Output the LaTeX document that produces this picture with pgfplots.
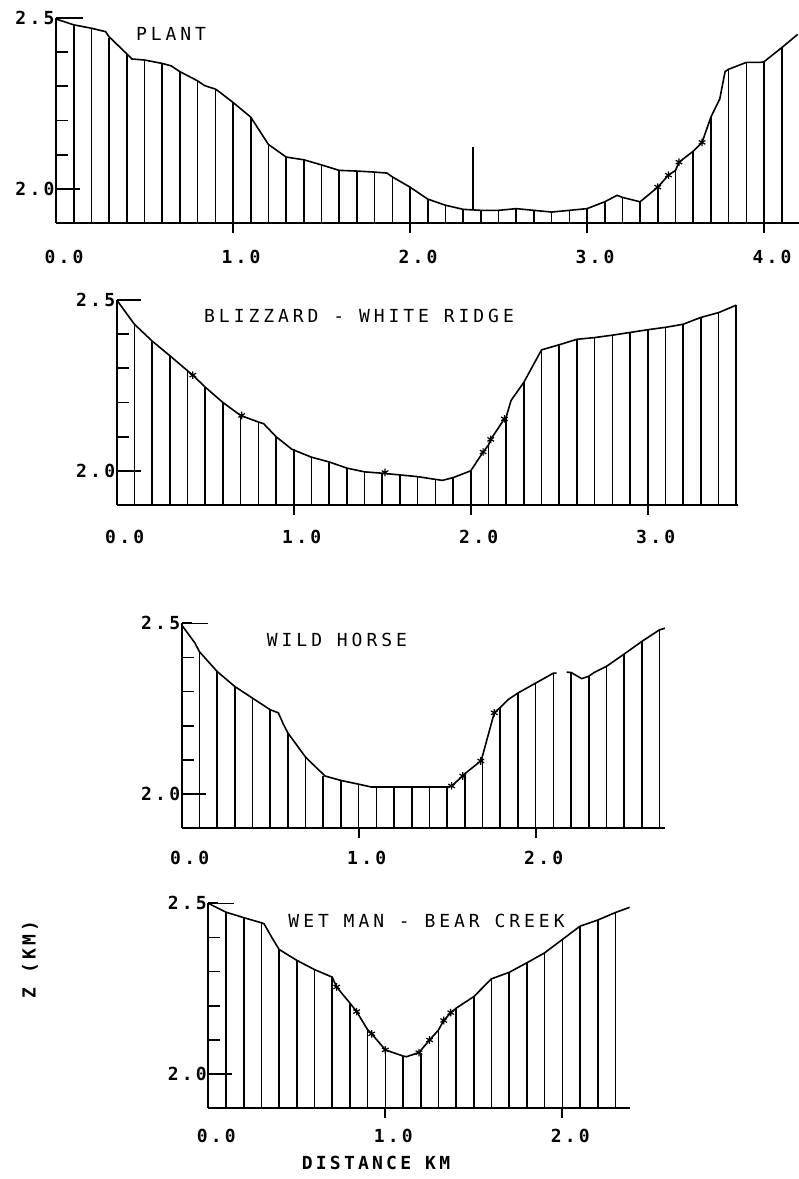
\documentclass[border=0pt]{standalone}
\usepackage{pgfplots}
\pgfplotsset{compat=1.18}
\usepackage{fontspec}
\setmainfont{DejaVu Sans Mono}
\newfontfamily\pf[LetterSpace=18]{DejaVu Sans Mono}
\newfontfamily\pft[LetterSpace=22]{DejaVu Sans Mono}
\newcommand\tickfont{\pf\bfseries\fontsize{18}{18}\selectfont}
\newcommand\titlefont{\pft\fontsize{18}{18}\selectfont}
\tikzset{ytk/.style={black, line width=1.7pt}}
\pgfplotsset{
  prof/.style={
    scale only axis, height=205pt, xmin=0, ymin=1.9, ymax=2.5,
    axis x line*=bottom, axis y line*=left,
    axis line style={line width=1.7pt},
    ytick={2.0,2.5}, yticklabels={2.0,2.5},
    minor ytick={2.1,2.2,2.3,2.4},
    xtick align=outside, ytick align=inside,
    major tick length=10pt, minor tick length=12pt,
    tick style={black, line width=1.7pt},
    major tick style={black, line width=1.7pt},
    minor tick style={black, line width=1.7pt},
    extra x ticks={0}, extra x tick labels={0.0},
    extra x tick style={major tick style={draw=none}},
    tick label style={font=\tickfont},
    yticklabel style={xshift=2pt},
  },
  comb/.style={ycomb, black, line width=1.6pt},
  prl/.style={black, line width=1.6pt, unbounded coords=jump},
  stars/.style={only marks, mark=asterisk, mark size=3.8pt, black, mark options={line width=1.2pt}},
}
\begin{document}
\begin{tikzpicture}
\useasboundingbox (0,0) rectangle (799pt,1179pt);
% ---------------- PLANT
\begin{axis}[prof, at={(56pt,956pt)}, anchor=south west, width=743.4pt, xmax=4.2,
  xtick={1,2,3,4}, xticklabels={1.0,2.0,3.0,4.0},
  xticklabel style={xshift=8pt, yshift=-14pt}]
\addplot[comb] table {
x y
0.1 2.48
0.2 2.47
0.3 2.44
0.4 2.395
0.5 2.377
0.6 2.367
0.7 2.343
0.8 2.316
0.9 2.292
1.0 2.253
1.1 2.21
1.2 2.13
1.3 2.093
1.4 2.085
1.5 2.07
1.6 2.054
1.7 2.052
1.8 2.049
1.9 2.035
2.0 2.005
2.1 1.97
2.2 1.952
2.3 1.94
2.4 1.937
2.5 1.937
2.6 1.942
2.7 1.937
2.8 1.932
2.9 1.937
3.0 1.942
3.1 1.962
3.2 1.975
3.3 1.962
3.4 2.005
3.5 2.054
3.6 2.11
3.7 2.21
3.8 2.35
3.9 2.37
4.0 2.372
4.1 2.413
};
\addplot[prl] table {
x y
0 2.497
0.1 2.48
0.2 2.47
0.28 2.46
0.3 2.445
0.4 2.395
0.43 2.38
0.5 2.377
0.6 2.367
0.65 2.36
0.7 2.343
0.8 2.316
0.84 2.302
0.9 2.292
0.92 2.285
1.0 2.253
1.1 2.21
1.2 2.13
1.3 2.093
1.4 2.085
1.5 2.07
1.6 2.054
1.7 2.052
1.8 2.049
1.87 2.046
1.9 2.035
2.0 2.005
2.1 1.97
2.2 1.952
2.3 1.94
2.4 1.937
2.5 1.937
2.6 1.942
2.7 1.937
2.8 1.932
2.9 1.937
3.0 1.942
3.1 1.962
3.17 1.981
3.2 1.975
3.3 1.962
3.4 2.005
3.46 2.04
3.5 2.054
3.52 2.078
3.6 2.11
3.65 2.136
3.7 2.21
3.75 2.263
3.78 2.343
3.8 2.35
3.9 2.37
3.98 2.37
4.0 2.372
4.1 2.413
4.19 2.452
};
\addplot[black, line width=1.5pt] coordinates {(2.356,1.94) (2.356,2.122)};
\addplot[stars] coordinates {(3.4,2.005) (3.46,2.04) (3.52,2.078) (3.65,2.136)};
\draw[ytk] (axis cs:0,2.0) -- (axis cs:0.136,2.0);
\draw[ytk] (axis cs:0,2.5) -- (axis cs:0.153,2.5);
\node[font=\titlefont] at (axis cs:0.65,2.453) {PLANT};
\end{axis}
% ---------------- BLIZZARD
\begin{axis}[prof, at={(116.7pt,674pt)}, anchor=south west, width=621.3pt, xmax=3.51,
  xtick={1,2,3}, xticklabels={1.0,2.0,3.0},
  xticklabel style={xshift=8pt, yshift=-12pt}]
\addplot[comb] table {
x y
0.1 2.429
0.2 2.38
0.3 2.337
0.4 2.293
0.5 2.245
0.6 2.20
0.7 2.162
0.8 2.143
0.9 2.10
1.0 2.063
1.1 2.04
1.2 2.026
1.3 2.008
1.4 1.997
1.5 1.993
1.6 1.988
1.7 1.983
1.8 1.975
1.9 1.98
2.0 2.0
2.1 2.075
2.2 2.157
2.3 2.259
2.4 2.354
2.5 2.369
2.6 2.385
2.7 2.39
2.8 2.397
2.9 2.405
3.0 2.413
3.1 2.42
3.2 2.429
3.3 2.449
3.4 2.463
3.5 2.485
};
\addplot[prl] table {
x y
0 2.5
0.1 2.429
0.2 2.38
0.3 2.337
0.4 2.293
0.43 2.28
0.5 2.245
0.6 2.20
0.7 2.162
0.8 2.143
0.83 2.138
0.9 2.10
0.99 2.063
1.1 2.04
1.2 2.026
1.3 2.008
1.4 1.997
1.5 1.993
1.6 1.988
1.7 1.983
1.8 1.975
1.84 1.972
1.9 1.98
2.0 2.0
2.07 2.055
2.1 2.075
2.113 2.092
2.19 2.152
2.2 2.157
2.228 2.206
2.3 2.259
2.4 2.354
2.5 2.369
2.6 2.385
2.7 2.39
2.8 2.397
2.9 2.405
3.0 2.413
3.1 2.42
3.2 2.429
3.3 2.449
3.4 2.463
3.5 2.485
};
\addplot[stars] coordinates {(0.43,2.28) (0.706,2.162) (1.516,1.995) (2.07,2.055) (2.113,2.092) (2.19,2.152)};
\draw[ytk] (axis cs:0,2.0) -- (axis cs:0.136,2.0);
\draw[ytk] (axis cs:0,2.5) -- (axis cs:0.136,2.5);
\node[font=\titlefont] at (axis cs:1.369,2.453) {BLIZZARD - WHITE RIDGE};
\end{axis}
% ---------------- WILD HORSE
\begin{axis}[prof, at={(181.7pt,350.7pt)}, anchor=south west, width=483.2pt, xmax=2.73,
  xtick={1,2}, xticklabels={1.0,2.0},
  xticklabel style={xshift=8pt, yshift=-9pt}]
\addplot[comb] table {
x y
0.1 2.417
0.2 2.359
0.3 2.315
0.4 2.281
0.5 2.247
0.6 2.179
0.7 2.108
0.8 2.053
0.9 2.04
1.0 2.029
1.1 2.021
1.2 2.021
1.3 2.021
1.4 2.021
1.5 2.021
1.6 2.06
1.7 2.113
1.8 2.254
1.9 2.296
2.0 2.325
2.1 2.354
2.2 2.356
2.3 2.345
2.4 2.374
2.5 2.41
2.6 2.447
2.7 2.481
};
\addplot[prl] table {
x y
0 2.495
0.075 2.442
0.1 2.417
0.2 2.359
0.3 2.315
0.4 2.281
0.5 2.247
0.546 2.238
0.575 2.204
0.6 2.179
0.7 2.108
0.81 2.053
0.9 2.04
1.0 2.029
1.07 2.021
1.5 2.021
1.525 2.024
1.588 2.053
1.6 2.06
1.69 2.097
1.7 2.113
1.766 2.238
1.8 2.254
1.845 2.277
1.9 2.296
2.0 2.325
2.1 2.354
2.118 2.354
2.14 nan
2.175 2.357
2.2 2.356
2.26 2.338
2.3 2.345
2.33 2.356
2.4 2.374
2.5 2.41
2.6 2.447
2.7 2.481
2.74 2.487
};
\addplot[stars] coordinates {(1.525,2.024) (1.588,2.053) (1.69,2.097) (1.766,2.238)};
\draw[ytk] (axis cs:0,2.0) -- (axis cs:0.136,2.0);
\draw[ytk] (axis cs:0,2.5) -- (axis cs:0.147,2.5);
\node[font=\titlefont] at (axis cs:0.877,2.452) {WILD HORSE};
\end{axis}
% ---------------- WET MAN
\begin{axis}[prof, at={(208.3pt,70.7pt)}, anchor=south west, width=421.3pt, xmax=2.38,
  xtick={1,2}, xticklabels={1.0,2.0},
  xticklabel style={xshift=8pt, yshift=-7pt},
  xlabel={DISTANCE KM}, xlabel style={at={(axis description cs:0.398,-0.268)}, anchor=center, font=\tickfont},
  ylabel={Z (KM)}, ylabel style={at={(axis description cs:-0.4235,0.726)}, anchor=center, font=\tickfont}]
\addplot[comb] table {
x y
0.1 2.474
0.2 2.458
0.3 2.443
0.4 2.365
0.5 2.333
0.6 2.306
0.7 2.284
0.8 2.208
0.9 2.13
1.0 2.071
1.1 2.053
1.2 2.061
1.3 2.129
1.4 2.193
1.5 2.227
1.6 2.279
1.7 2.298
1.8 2.326
1.9 2.355
2.0 2.394
2.1 2.433
2.2 2.451
2.3 2.473
};
\addplot[prl] table {
x y
0 2.5
0.1 2.474
0.2 2.458
0.3 2.443
0.315 2.44
0.36 2.399
0.4 2.365
0.5 2.333
0.6 2.306
0.7 2.284
0.725 2.255
0.8 2.208
0.838 2.183
0.9 2.13
0.923 2.118
1.0 2.071
1.1 2.053
1.12 2.051
1.19 2.063
1.25 2.1
1.3 2.129
1.33 2.157
1.37 2.18
1.4 2.193
1.5 2.227
1.6 2.279
1.7 2.298
1.8 2.326
1.9 2.355
2.0 2.394
2.1 2.433
2.2 2.451
2.3 2.473
2.39 2.49
};
\addplot[stars] coordinates {(0.725,2.255) (0.838,2.183) (0.923,2.118) (1.0,2.071) (1.19,2.063) (1.25,2.1) (1.33,2.157) (1.37,2.18)};
\draw[ytk] (axis cs:0,2.0) -- (axis cs:0.136,2.0);
\draw[ytk] (axis cs:0,2.5) -- (axis cs:0.147,2.5);
\node[font=\titlefont] at (axis cs:1.233,2.448) {WET MAN - BEAR CREEK};
\end{axis}
\end{tikzpicture}
\end{document}
